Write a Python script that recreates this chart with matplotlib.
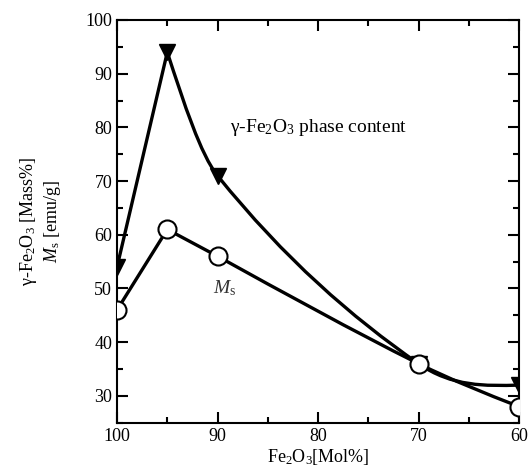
import numpy as np
import matplotlib
matplotlib.use('Agg')
import matplotlib.pyplot as plt
from matplotlib.path import Path
from matplotlib.patches import PathPatch
from matplotlib.ticker import MultipleLocator

plt.rcParams['font.family'] = ['Liberation Serif', 'DejaVu Serif']
plt.rcParams['mathtext.fontset'] = 'custom'
plt.rcParams['mathtext.rm'] = 'Liberation Serif'
plt.rcParams['mathtext.it'] = 'Liberation Serif:italic'

# Fe2O3 content of the samples (Mol%)
fe2o3 = [100, 95, 90, 70, 60]
# gamma-Fe2O3 phase content (Mass%)
gamma_content = [54, 94, 71, 36, 32]
# saturation magnetisation Ms (emu/g)
ms_values = [46, 61, 56, 36, 28]

x_ticks = [100, 90, 80, 70, 60]
y_ticks = [30, 40, 50, 60, 70, 80, 90, 100]


def smooth_path(xs, ys):
    # cubic Hermite y(x) through the points as Bezier segments, natural ends
    x = np.asarray(xs, float)
    y = np.asarray(ys, float)
    m = np.zeros_like(y)
    m[1:-1] = (y[2:] - y[:-2]) / (x[2:] - x[:-2])
    s = np.diff(y) / np.diff(x)
    m[0] = (3 * s[0] - m[1]) / 2
    m[-1] = (3 * s[-1] - m[-2]) / 2
    verts = [(x[0], y[0])]
    codes = [Path.MOVETO]
    for i in range(len(x) - 1):
        h = (x[i + 1] - x[i]) / 3
        verts += [(x[i] + h, y[i] + m[i] * h),
                  (x[i + 1] - h, y[i + 1] - m[i + 1] * h),
                  (x[i + 1], y[i + 1])]
        codes += [Path.CURVE4] * 3
    return Path(verts, codes)


fig = plt.figure(figsize=(5.32, 4.76), dpi=100)
ax = fig.add_axes([0.22, 0.112, 0.7556, 0.846])

lw = 2.4

# gamma-Fe2O3 curve: straight rise to the peak, smooth fall after it
ax.plot(fe2o3[:2], gamma_content[:2], color='black', lw=lw, solid_capstyle='round', zorder=2)
ax.add_patch(PathPatch(smooth_path(fe2o3[1:], gamma_content[1:]), fill=False,
                       edgecolor='black', lw=lw, zorder=2))
ax.plot(fe2o3, gamma_content, linestyle='none', marker='v', markersize=12,
        color='black', zorder=4)

# Ms curve
ax.plot(fe2o3[:3], ms_values[:3], color='black', lw=lw, solid_joinstyle='round', zorder=2)
ax.add_patch(PathPatch(smooth_path(fe2o3[2:], ms_values[2:]), fill=False,
                       edgecolor='black', lw=lw, zorder=2))
ax.plot(fe2o3, ms_values, linestyle='none', marker='o', markersize=13,
        markerfacecolor='white', markeredgecolor='black', markeredgewidth=1.5, zorder=5)

ax.text(88.8, 80, 'γ-Fe$_2$O$_3$ phase content', fontsize=14, ha='left', va='center')
ax.text(89.3, 50, '$M_\\mathrm{s}$', fontsize=14, ha='center', va='center', color='#333333')

ax.set_xlim(100, 60)
ax.set_ylim(25, 100)
ax.set_xticks(x_ticks)
ax.set_yticks(y_ticks)
ax.xaxis.set_minor_locator(MultipleLocator(5))
ax.yaxis.set_minor_locator(MultipleLocator(5))
ax.tick_params(which='both', direction='in', top=True, right=True, width=1.5, labelsize=13)
ax.tick_params(which='major', length=8)
ax.tick_params(which='minor', length=4.5)
for side in ax.spines.values():
    side.set_linewidth(1.5)

ax.set_xlabel('Fe$_2$O$_3$[Mol%]', fontsize=13, labelpad=2)
ax.set_ylabel('γ-Fe$_2$O$_3$ [Mass%]\n$M_\\mathrm{s}$ [emu/g]', fontsize=13, labelpad=16)

fig.savefig('out.png', dpi=100)
